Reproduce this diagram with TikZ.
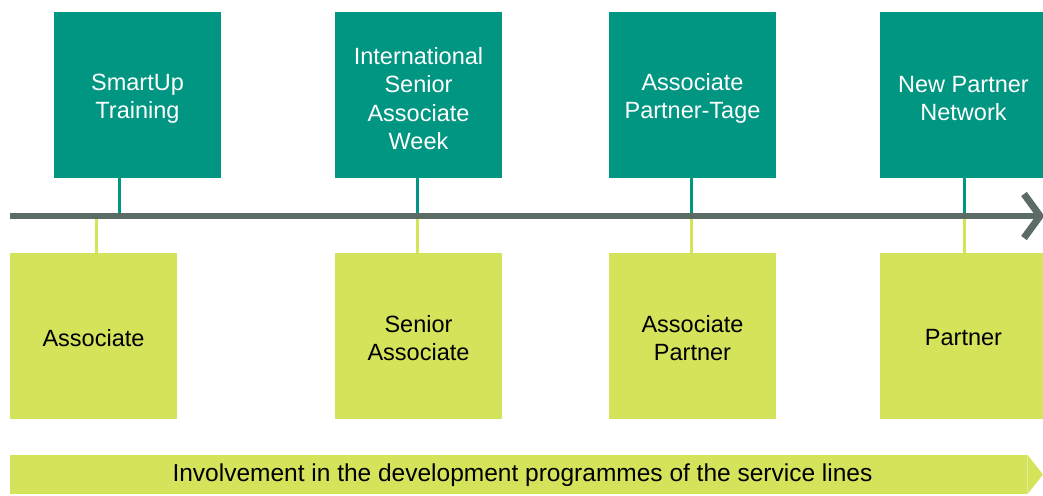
\documentclass[tikz,border=0pt]{standalone}
\usepackage{fontspec}
\setmainfont{Liberation Sans}
\definecolor{teal1}{HTML}{009682}
\definecolor{lime1}{HTML}{D4E35A}
\definecolor{gray1}{HTML}{5B6B65}
\begin{document}
\begin{tikzpicture}[x=1pt,y=-1pt,
  topbox/.style={fill=teal1,minimum width=167pt,minimum height=166pt,inner sep=0pt},
  toptext/.style={text=white,inner sep=0pt,align=center,yshift=-3.5pt,font=\fontsize{23.5}{28.5}\selectfont},
  botbox/.style={fill=lime1,minimum width=167pt,minimum height=166pt,inner sep=0pt},
  bottext/.style={text=black,inner sep=0pt,align=center,yshift=-2pt,font=\fontsize{23.5}{28.5}\selectfont},
  tconn/.style={draw=teal1,line width=3pt},
  bconn/.style={draw=lime1,line width=3pt}]
\useasboundingbox (0,0) rectangle (1043,495);
% boxes
\node[topbox,label={[toptext]center:SmartUp\\Training}] (t1) at (137.5,95) {};
\node[topbox,label={[toptext]center:International\\Senior\\Associate\\Week}] (t2) at (418.5,95) {};
\node[topbox,label={[toptext]center:Associate\\Partner-Tage}] (t3) at (692.5,95) {};
\node[topbox,label={[toptext]center:New Partner\\Network}] (t4) at (963.5,95) {};
\node[botbox,label={[bottext]center:Associate}] (b1) at (93.5,336) {};
\node[botbox,label={[bottext]center:Senior\\Associate}] (b2) at (418.5,336) {};
\node[botbox,label={[bottext]center:Associate\\Partner}] (b3) at (692.5,336) {};
\node[botbox,label={[bottext]center:Partner}] (b4) at (963.5,336) {};
% line coordinates
\coordinate (ls) at (10,216);
\coordinate (le) at (1040,216);
\coordinate (c1t) at (119,216);
\coordinate (c1b) at (96,216);
\coordinate (c2) at (417,216);
\coordinate (c3) at (691,216);
\coordinate (c4) at (964,216);
% connectors
\draw[tconn] (t1.south -| c1t) -- (c1t);
\draw[bconn] (b1.north -| c1b) -- (c1b);
\draw[tconn] (t2.south -| c2) -- (c2);
\draw[bconn] (b2.north -| c2) -- (c2);
\draw[tconn] (t3.south -| c3) -- (c3);
\draw[bconn] (b3.north -| c3) -- (c3);
\draw[tconn] (t4.south -| c4) -- (c4);
\draw[bconn] (b4.north -| c4) -- (c4);
% main line
\draw[gray1,line width=6pt] (ls) -- (le);
\coordinate (ah1) at (1024,194);
\coordinate (ah2) at (1024,238);
\draw[gray1,line width=7pt,miter limit=10] (ah1) -- (le) -- (ah2);
% bottom arrow
\node[fill=lime1,inner sep=0pt,minimum height=39pt,minimum width=1017pt,anchor=west] (ba) at (10,474.5) {};
\coordinate (tip) at (1043,474.5);
\fill[lime1] (ba.north east) -- (tip) -- (ba.south east) -- cycle;
\node[font=\fontsize{24.5}{28}\selectfont,text=black,inner sep=0pt] (bt) at (522.5,475.5) {Involvement in the development programmes of the service lines};
\end{tikzpicture}
\end{document}
